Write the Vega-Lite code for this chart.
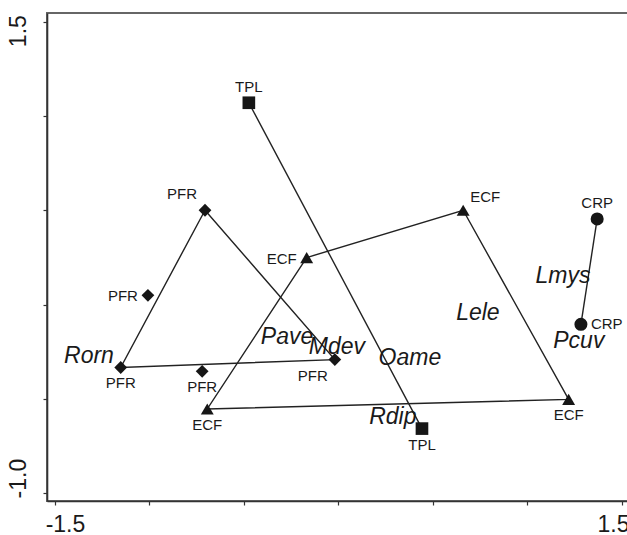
{
  "$schema": "https://vega.github.io/schema/vega-lite/v6.json",
  "autosize": {"type": "none"},
  "padding": {"left": 47, "top": 13, "right": 0, "bottom": 34},
  "width": 584,
  "height": 488,
  "background": "white",
  "config": {
    "view": {"stroke": "#666", "strokeWidth": 2},
    "font": "Liberation Sans"
  },
  "datasets": {
    "points": [
      {"id": "p1", "group": "TPL", "x": -0.474, "y": 1.070},
      {"id": "p2", "group": "TPL", "x": 0.442, "y": -0.658},
      {"id": "p3", "group": "PFR", "x": -0.706, "y": 0.500},
      {"id": "p4", "group": "PFR", "x": -1.008, "y": 0.049},
      {"id": "p5", "group": "PFR", "x": -1.152, "y": -0.334},
      {"id": "p6", "group": "PFR", "x": -0.721, "y": -0.354},
      {"id": "p7", "group": "PFR", "x": -0.019, "y": -0.292},
      {"id": "p8", "group": "ECF", "x": -0.168, "y": 0.249},
      {"id": "p9", "group": "ECF", "x": 0.660, "y": 0.500},
      {"id": "p10", "group": "ECF", "x": -0.694, "y": -0.554},
      {"id": "p11", "group": "ECF", "x": 1.218, "y": -0.503},
      {"id": "p12", "group": "CRP", "x": 1.369, "y": 0.454},
      {"id": "p13", "group": "CRP", "x": 1.283, "y": -0.105}
    ],
    "paths": [
      {"path": "TPL", "order": 1, "x": -0.474, "y": 1.070},
      {"path": "TPL", "order": 2, "x": 0.442, "y": -0.658},
      {"path": "PFR", "order": 1, "x": -0.706, "y": 0.500},
      {"path": "PFR", "order": 2, "x": -1.152, "y": -0.334},
      {"path": "PFR", "order": 3, "x": -0.019, "y": -0.292},
      {"path": "PFR", "order": 4, "x": -0.706, "y": 0.500},
      {"path": "ECF", "order": 1, "x": -0.168, "y": 0.249},
      {"path": "ECF", "order": 2, "x": 0.660, "y": 0.500},
      {"path": "ECF", "order": 3, "x": 1.218, "y": -0.503},
      {"path": "ECF", "order": 4, "x": -0.694, "y": -0.554},
      {"path": "ECF", "order": 5, "x": -0.168, "y": 0.249},
      {"path": "CRP", "order": 1, "x": 1.369, "y": 0.454},
      {"path": "CRP", "order": 2, "x": 1.283, "y": -0.105}
    ],
    "species": [
      {"name": "Rorn", "x": -1.320, "y": -0.274},
      {"name": "Pave", "x": -0.272, "y": -0.174},
      {"name": "Mdev", "x": -0.008, "y": -0.227},
      {"name": "Oame", "x": 0.378, "y": -0.285},
      {"name": "Lele", "x": 0.738, "y": -0.046},
      {"name": "Lmys", "x": 1.188, "y": 0.150},
      {"name": "Pcuv", "x": 1.272, "y": -0.195},
      {"name": "Rdip", "x": 0.288, "y": -0.598}
    ]
  },
  "encoding": {
    "x": {
      "field": "x", "type": "quantitative",
      "scale": {"domain": [-1.542, 1.548], "nice": false, "zero": false},
      "axis": {
        "title": null, "grid": false,
        "values": [-1.5, -1, -0.5, 0, 0.5, 1, 1.5],
        "labelExpr": "datum.value == -1.5 ? '-1.5' : (datum.value == 1.5 ? '1.5' : '')",
        "labelFontSize": 23, "labelColor": "#1a1a1a", "labelFont": "Liberation Sans",
        "labelPadding": 8, "labelFlush": false, "labelOverlap": false,
        "labelOffset": {"condition": {"test": "datum.value < 0", "value": 10}, "value": -9},
        "tickSize": 4, "tickColor": "#333", "tickWidth": 1.2,
        "domainColor": "#333", "domainWidth": 1.6
      }
    },
    "y": {
      "field": "y", "type": "quantitative",
      "scale": {"domain": [-1.042, 1.546], "nice": false, "zero": false},
      "axis": {
        "title": null, "grid": false,
        "values": [-1, -0.5, 0, 0.5, 1, 1.5],
        "labelExpr": "datum.value == -1 ? '-1.0' : (datum.value == 1.5 ? '1.5' : '')",
        "labelFontSize": 23, "labelColor": "#1a1a1a", "labelFont": "Liberation Sans",
        "labelAngle": -90, "labelAlign": "center", "labelBaseline": "bottom",
        "labelPadding": 13, "labelFlush": false, "labelOverlap": false,
        "labelOffset": {"condition": {"test": "datum.value > 0", "value": 9}, "value": -15},
        "tickSize": 4, "tickColor": "#333", "tickWidth": 1.2,
        "domainColor": "#333", "domainWidth": 1.6
      }
    }
  },
  "layer": [
    {
      "data": {"name": "paths"},
      "mark": {"type": "line", "color": "#222", "strokeWidth": 1.4},
      "encoding": {
        "detail": {"field": "path"},
        "order": {"field": "order", "type": "quantitative"}
      }
    },
    {
      "data": {"name": "points"},
      "mark": {"type": "point", "filled": true, "opacity": 1},
      "encoding": {
        "shape": {
          "field": "group", "type": "nominal", "legend": null,
          "scale": {"domain": ["TPL", "PFR", "ECF", "CRP"], "range": ["square", "diamond", "triangle-up", "circle"]}
        },
        "size": {
          "field": "group", "type": "nominal", "legend": null,
          "scale": {"domain": ["TPL", "PFR", "ECF", "CRP"], "range": [160, 170, 120, 130]}
        },
        "color": {"value": "#161616"}
      }
    },
    {
      "data": {"name": "points"},
      "transform": [{"filter": "indexof(['p1','p12'], datum.id) >= 0"}],
      "mark": {"type": "text", "fontSize": 15, "color": "#1a1a1a", "dy": -16, "align": "center", "baseline": "middle"},
      "encoding": {"text": {"field": "group"}}
    },
    {
      "data": {"name": "points"},
      "transform": [{"filter": "indexof(['p2','p5','p6','p10','p11'], datum.id) >= 0"}],
      "mark": {"type": "text", "fontSize": 15, "color": "#1a1a1a", "dy": 16, "align": "center", "baseline": "middle"},
      "encoding": {"text": {"field": "group"}}
    },
    {
      "data": {"name": "points"},
      "transform": [{"filter": "datum.id == 'p3'"}],
      "mark": {"type": "text", "fontSize": 15, "color": "#1a1a1a", "dx": -23, "dy": -16, "align": "center", "baseline": "middle"},
      "encoding": {"text": {"field": "group"}}
    },
    {
      "data": {"name": "points"},
      "transform": [{"filter": "indexof(['p4','p8'], datum.id) >= 0"}],
      "mark": {"type": "text", "fontSize": 15, "color": "#1a1a1a", "dx": -10, "dy": 1, "align": "right", "baseline": "middle"},
      "encoding": {"text": {"field": "group"}}
    },
    {
      "data": {"name": "points"},
      "transform": [{"filter": "datum.id == 'p7'"}],
      "mark": {"type": "text", "fontSize": 15, "color": "#1a1a1a", "dx": -22, "dy": 16, "align": "center", "baseline": "middle"},
      "encoding": {"text": {"field": "group"}}
    },
    {
      "data": {"name": "points"},
      "transform": [{"filter": "datum.id == 'p9'"}],
      "mark": {"type": "text", "fontSize": 15, "color": "#1a1a1a", "dx": 22, "dy": -13, "align": "center", "baseline": "middle"},
      "encoding": {"text": {"field": "group"}}
    },
    {
      "data": {"name": "points"},
      "transform": [{"filter": "datum.id == 'p13'"}],
      "mark": {"type": "text", "fontSize": 15, "color": "#1a1a1a", "dx": 10, "dy": 0, "align": "left", "baseline": "middle"},
      "encoding": {"text": {"field": "group"}}
    },
    {
      "data": {"name": "species"},
      "mark": {"type": "text", "fontSize": 23, "fontStyle": "italic", "color": "#1a1a1a", "align": "center", "baseline": "middle"},
      "encoding": {"text": {"field": "name"}}
    }
  ]
}
